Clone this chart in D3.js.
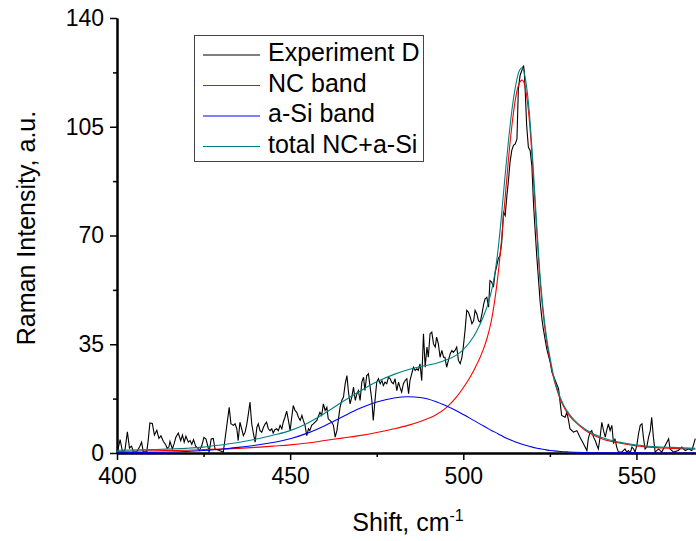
<!DOCTYPE html>
<html>
<head>
<meta charset="utf-8">
<script src="https://cdn.jsdelivr.net/npm/d3@7"></script>
<style>
  body { margin: 0; background: #fff; }
  svg { display: block; font-family: "Liberation Sans", Arial, sans-serif; }
  .tick text { font-size: 23px; fill: #000; }
</style>
</head>
<body>
<div id="chart"></div>
<script>
// Raman spectrum, sample D: measured data + fitted bands

// measured spectrum [shift cm-1, intensity]
const experimentD = [
  [400.1,0.3],[400.9,4.3],[401.6,0.3],[402.3,1],[403,6.8],[403.6,1.6],[404.2,2.2],[404.7,0.5],[405.7,0.3],[406.6,2.2],
  [407.1,3.5],[407.6,0.3],[408.6,0.5],[409,4],[409.5,9.7],[410.2,9.5],[410.8,5.8],[411.5,7.3],[412.1,4.7],[412.7,5.5],
  [413.4,3.7],[414.1,2.6],[414.5,1.5],[415,2],[415.3,3.7],[416,1.3],[416.5,3],[417,5.1],[417.7,6.4],[418.4,4],
  [418.9,5.8],[419.4,3.5],[419.9,5.4],[420.6,3.5],[421.1,4],[421.6,2.8],[422.1,4.3],[422.7,2.2],[423.2,1.7],[423.8,0.8],
  [424.5,2.4],[425.1,5],[425.7,4.5],[426.1,2.8],[426.6,0.3],[427.2,4.5],[427.8,4.7],[428.3,1.3],[430.7,0.3],
  [432.4,14.7],[432.9,9.4],[433.6,8.9],[434.1,9.4],[434.6,7.8],[435,4],[435.5,9.9],[436,7.8],[436.5,5.6],[437,6.7],
  [437.5,9.4],[438,13.1],[438.4,16.4],[438.9,9.4],[439.4,6.2],[439.9,3.5],[440.4,8.3],[440.8,9.4],[441.3,7.2],[441.8,6.7],
  [442.3,8.3],[442.8,9.4],[443.2,9.9],[443.7,7.8],[444.2,7.2],[444.7,7.8],[445.1,6.4],[445.6,7.5],[446.1,7.8],[446.6,7.2],
  [447.1,8.9],[447.6,7.8],[448,9.9],[448.5,11.5],[449,13.5],[449.5,10.5],[450,7.2],[450.4,11],[450.9,15.3],[451.4,13.7],
  [451.9,13.1],[452.4,11.5],[452.9,10.5],[453.4,12.1],[453.8,10.5],[454.3,8.9],[454.8,5.6],[455.3,7.8],[455.7,7.2],[456.2,8.9],
  [456.7,9.4],[457.7,10.5],[458.6,13.1],[459.1,12.1],[459.6,15.8],[460.1,13.7],[460.6,14.7],[461,11],[461.5,10.5],[462,9.9],
  [462.5,8.9],[463,5.1],[463.5,7.2],[463.9,10.5],[464.4,14.7],[464.9,16.9],[465.4,18],[465.9,22.3],[466.4,24.9],[466.8,20.1],
  [467.3,15.8],[467.8,18],[468.3,21.2],[468.8,16.9],[469.3,19.1],[469.7,20.1],[470.2,16.9],[470.7,22.8],[471.2,24.4],[471.6,20.1],
  [472.1,24.9],[472.6,25.5],[473.1,21.2],[473.6,16.9],[474,10.5],[474.5,16.9],[475,22.8],[475.5,23.9],[476,22.3],[476.5,23.3],
  [476.9,21.7],[477.4,22.8],[477.9,22.3],[478.4,24.4],[478.9,23.9],[479.3,22.8],[479.8,22.3],[480.3,23.9],[480.8,20.1],[481.3,22.8],
  [481.7,21.2],[482.2,19.6],[482.7,22.3],[483.2,23.3],[483.7,23.9],[484.2,19.1],[484.6,23.3],[485.1,25.5],[485.6,27.6],[486.1,26.6],
  [486.6,27.1],[487,26.6],[487.5,28.7],[488,23.3],[488.5,38.4],[489,27.6],[489.5,34.1],[489.9,30.8],[490.4,38.4],[490.9,38.9],
  [491.4,35.1],[491.9,34.1],[492.3,37.3],[492.8,35.1],[493.3,30.8],[493.8,33],[494.3,30.8],[494.7,30.8],[495.2,27.6],[495.7,29.8],
  [496.2,31.9],[496.7,33],[497.1,32.4],[497.6,33],[498.1,34.1],[498.6,29.8],[499.1,28.7],[499.6,30.8],[500,34.1],[500.5,39.4],
  [501,45.9],[501.5,45.3],[502,43.7],[502.5,41.6],[503,42.6],[503.4,45.9],[503.9,44.8],[504.4,42.6],[504.9,42.1],[505.4,44.8],
  [505.9,48],[506.3,49.6],[506.8,50.1],[507.3,46.9],[507.7,55.5],[508.2,55],[508.7,53.4],[509.2,58],[510.1,62.5],[510.6,63.6],
  [511.1,67.8],[511.6,77.5],[512.1,76.4],[512.6,82.9],[513,87.2],[513.5,93.6],[514,97.4],[514.5,99],[515,99.5],[515.5,101.1],
  [515.9,117.2],[516.4,121.5],[516.9,123.1],[517.4,124.7],[517.6,123],[517.9,116.1],[518.3,105.4],[518.8,98.4],[519.3,97.4],[519.8,92.5],
  [520.3,79.7],[521.2,63.6],[522.2,48.5],[522.7,43.2],[523.1,40],[524.1,33.5],[525.1,29.2],[525.6,26],[526,24.9],[526.5,23.5],
  [527.5,20.7],[528.4,12.1],[529.4,11.5],[529.9,13.1],[530.4,10.5],[530.8,7.8],[531.8,6.7],[532.8,7.2],[533.7,5.1],[534.7,3],
  [535.7,0.8],[536.1,4.6],[536.6,6.7],[537.1,7.2],[537.6,5.1],[538.1,4],[538.6,2.4],[539,1.3],[539.5,5.1],[540,9.9],
  [540.5,7.2],[541,5.1],[541.4,7.2],[541.9,9.4],[542.4,7.2],[542.9,8.9],[543.4,3],[543.8,4.6],[544.3,1.9],[544.8,0.3],
  [545.8,0.3],[546.2,0.8],[546.7,1.3],[547.2,0.3],[547.7,0.8],[548.2,0],[548.7,1.9],[549.2,1.3],[549.6,0.3],[550.1,2.4],
  [550.6,6.2],[551.1,8.9],[551.6,9.4],[552,5.1],[552.5,1.3],[553,1.9],[553.5,5.1],[554,7.2],[554.4,11.5],[554.9,5.1],
  [555.4,0.3],[556.4,1.3],[557.3,0.3],[558.3,2.4],[559.3,4.6],[559.7,1.3],[560.7,0.3],[562.1,0.8],[563.1,1.9],[564.1,0.8],
  [565,1.3],[566,0.8],[567,4.6]
];

// fitted curves, sampled on a common shift grid
const fitShift = [400,410,420,425,430,435,440,445,450,455,460,465,470,475,480,484,488,492,495,498,
  500,503,506,507,508,509,510,511,512,513,514,515,516,517,518,519,520,521,522,523,
  524,525,526,527,528,529,530,532,535,540,545,550,555,560,567];

const ncBand = [0.5,0.7,0.9,1.1,1.3,1.5,1.8,2.2,2.6,3.2,4.0,4.8,5.6,6.6,7.8,8.9,10.3,12.2,14.5,18,
  21,26.5,34,37.5,42,48.5,57,68,81,94,105,113.5,118.5,120,117,108,93,75,58,45.5,
  36.5,30,24.5,20.5,17.3,14.9,13,10.3,7.5,4.6,3.2,2.3,1.8,1.5,1.2];

const aSiBand = [0.1,0.2,0.5,0.8,1.2,1.8,2.5,3.4,4.6,6.4,8.8,11.6,14.3,16.4,17.7,18.1,17.8,16.6,15.2,13.6,
  12.4,10.5,8.6,8.0,7.3,6.8,6.2,5.6,5.0,4.5,4.0,3.6,3.2,2.8,2.5,2.2,1.9,1.6,1.4,1.2,
  1.0,0.8,0.7,0.6,0.5,0.4,0.35,0.25,0.15,0.08,0.05,0.03,0.02,0.01,0];

const totalFit = [0.9,1.1,1.5,1.9,2.6,3.4,4.4,5.7,7.2,9.6,12.8,16.4,19.8,22.9,25.3,26.8,27.9,28.8,29.9,31.5,
  33.3,37.5,44.5,47.5,51.5,57,65,76,88.5,100,110,117.5,122.5,124,120,110.5,95.2,77,59.5,46.8,
  37.5,31,25.2,21,17.9,15.4,13.5,10.7,7.8,5,3.5,2.6,2.1,1.8,1.5];

const legendLabels = ["Experiment D", "NC band", "a-Si band", "total NC+a-Si"];
const seriesColors = ["#000000", "#ff0000", "#0000ff", "#008080"];

const xMajor = [400, 450, 500, 550];
const xMinor = [425, 475, 525];
const yMajor = [0, 35, 70, 105, 140];
const yMinor = [17.5, 52.5, 87.5, 122.5];

const width = 696, height = 541;
const plot = {left: 117, right: 696, top: 18, bottom: 453};

const svg = d3.select("#chart").append("svg")
    .attr("width", width)
    .attr("height", height);

const x = d3.scaleLinear().domain([400, 567.2]).range([plot.left, plot.right]);
const y = d3.scaleLinear().domain([0, 140]).range([plot.bottom, plot.top]);

// axes: major with labels, minor without
svg.append("g")
    .attr("transform", "translate(0," + plot.bottom + ")")
    .call(d3.axisBottom(x).tickValues(xMinor).tickSize(4).tickSizeOuter(0).tickFormat(""));
svg.append("g")
    .attr("class", "xaxis")
    .attr("transform", "translate(0," + plot.bottom + ")")
    .call(d3.axisBottom(x).tickValues(xMajor).tickSize(7).tickSizeOuter(0).tickPadding(8));
svg.append("g")
    .attr("transform", "translate(" + plot.left + ",0)")
    .call(d3.axisLeft(y).tickValues(yMinor).tickSize(4).tickSizeOuter(0).tickFormat(""));
svg.append("g")
    .attr("class", "yaxis")
    .attr("transform", "translate(" + plot.left + ",0)")
    .call(d3.axisLeft(y).tickValues(yMajor).tickSize(7).tickSizeOuter(0).tickPadding(6));

svg.selectAll(".domain").attr("stroke", "#000").attr("stroke-width", 2);
svg.selectAll(".tick line").attr("stroke", "#000").attr("stroke-width", 1.5);

// clip the curves to the plot area
svg.append("clipPath").attr("id", "clip")
  .append("rect")
    .attr("x", plot.left).attr("y", 0)
    .attr("width", plot.right - plot.left).attr("height", plot.bottom + 1);

const lines = svg.append("g").attr("clip-path", "url(#clip)");

const rawLine = d3.line()
    .x(d => x(d[0]))
    .y(d => y(d[1]));

const fitLine = d3.line()
    .x((d, i) => x(fitShift[i]))
    .y(d => y(d))
    .curve(d3.curveMonotoneX);

lines.append("path")
    .datum(experimentD)
    .attr("d", rawLine)
    .attr("fill", "none")
    .attr("stroke", seriesColors[0])
    .attr("stroke-width", 1.1);

[ncBand, aSiBand, totalFit].forEach((s, i) => {
    lines.append("path")
        .datum(s)
        .attr("d", fitLine)
        .attr("fill", "none")
        .attr("stroke", seriesColors[i + 1])
        .attr("stroke-width", 1.1);
});

// axis titles
svg.append("text")
    .attr("transform", "translate(35,228) rotate(-90)")
    .attr("text-anchor", "middle")
    .style("font-size", "25px")
    .text("Raman Intensity, a.u.");

const xTitle = svg.append("text")
    .attr("x", 408)
    .attr("y", 531)
    .attr("text-anchor", "middle")
    .style("font-size", "25px");
xTitle.append("tspan").text("Shift, cm");
xTitle.append("tspan").attr("dy", -10).style("font-size", "16px").text("-1");

// legend
const legend = svg.append("g");
legend.append("rect")
    .attr("x", 194.5).attr("y", 35.5)
    .attr("width", 229).attr("height", 126)
    .attr("fill", "#fff")
    .attr("stroke", "#444")
    .attr("stroke-width", 1);

const rows = legend.selectAll("g.row")
    .data(legendLabels)
  .enter().append("g")
    .attr("class", "row")
    .attr("transform", (d, i) => "translate(0," + (61 + i * 30.5) + ")");

rows.append("line")
    .attr("x1", 203).attr("x2", 260)
    .attr("y1", -6).attr("y2", -6)
    .attr("stroke", (d, i) => seriesColors[i])
    .attr("stroke-width", 1.1);

rows.append("text")
    .attr("x", 268)
    .attr("y", 0)
    .style("font-size", "25px")
    .text(d => d);
</script>
</body>
</html>
